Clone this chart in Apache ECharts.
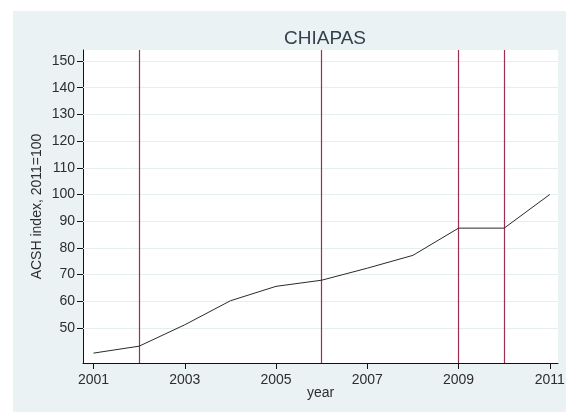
<!DOCTYPE html>
<html>
<head>
<meta charset="utf-8">
<script src="https://cdn.jsdelivr.net/npm/echarts@6/dist/echarts.min.js"></script>
<style>
  html, body { margin: 0; padding: 0; background: #ffffff; }
  #chart { width: 571px; height: 412px; }
</style>
</head>
<body>
<div id="chart"></div>
<script>
// ACSH index for Chiapas, 2011 = 100
const years = [2001, 2002, 2003, 2004, 2005, 2006, 2007, 2008, 2009, 2010, 2011];
const acshIndex = [40.6, 43.2, 51.2, 60.2, 65.6, 67.9, 72.4, 77.2, 87.4, 87.4, 100];

// Years marked with vertical reference lines
const markedYears = [2002, 2006, 2009, 2010];

// Tick labels
const yTicks = [50, 60, 70, 80, 90, 100, 110, 120, 130, 140, 150];
const xTicks = [2001, 2003, 2005, 2007, 2009, 2011];

const FONT = '"Liberation Sans", Arial, sans-serif';
const TEXT = '#2e2e2e';

const chart = echarts.init(document.getElementById('chart'), null, { renderer: 'canvas' });

chart.setOption({
  backgroundColor: '#ffffff',
  animation: false,
  graphic: [{
    type: 'rect',
    left: 13, top: 11,
    shape: { width: 553, height: 401 },
    style: { fill: '#eaf2f3' },
    z: -10
  }],
  title: {
    text: 'CHIAPAS',
    left: 320, top: 24,
    textAlign: 'center',
    textStyle: { fontFamily: FONT, fontSize: 19, fontWeight: 'normal', color: '#33404e' }
  },
  grid: {
    left: 83, top: 50, right: 13, bottom: 49,
    show: true, backgroundColor: '#ffffff', borderWidth: 0
  },
  xAxis: {
    type: 'value',
    min: 2000.77, max: 2011.18,
    name: 'year',
    nameLocation: 'middle',
    nameGap: 23,
    nameMoveOverlap: false,
    nameTextStyle: { fontFamily: FONT, fontSize: 14, color: TEXT },
    axisLine: { show: true, lineStyle: { color: '#111111', width: 1 } },
    axisTick: { show: true, length: 6, customValues: xTicks, lineStyle: { color: '#111111' } },
    axisLabel: {
      customValues: xTicks,
      formatter: v => String(v),
      fontFamily: FONT, fontSize: 14, color: TEXT, margin: 10
    },
    splitLine: { show: false }
  },
  yAxis: {
    type: 'value',
    min: 36.9, max: 154.1,
    name: 'ACSH index, 2011=100',
    nameLocation: 'middle',
    nameGap: 39,
    nameMoveOverlap: false,
    nameRotate: 90,
    nameTextStyle: { fontFamily: FONT, fontSize: 14, color: TEXT },
    axisLine: { show: true, lineStyle: { color: '#111111', width: 1 } },
    axisTick: { show: true, length: 6, customValues: yTicks, lineStyle: { color: '#111111' } },
    axisLabel: {
      customValues: yTicks,
      formatter: v => String(v),
      fontFamily: FONT, fontSize: 14, color: TEXT, margin: 8
    },
    splitLine: { show: false }
  },
  series: [
    {
      // faint horizontal grid at each labelled y tick
      type: 'line',
      data: [],
      markLine: {
        silent: true,
        symbol: 'none',
        label: { show: false },
        lineStyle: { color: '#e6eeef', width: 1, type: 'solid' },
        data: yTicks.map(v => ({ yAxis: v }))
      },
      z: 1
    },
    {
      // vertical reference lines
      type: 'line',
      data: [],
      markLine: {
        silent: true,
        symbol: 'none',
        label: { show: false },
        lineStyle: { color: '#9c2f52', width: 1.2, type: 'solid' },
        data: markedYears.map(v => ({ xAxis: v }))
      },
      z: 3
    },
    {
      type: 'line',
      data: years.map((y, i) => [y, acshIndex[i]]),
      showSymbol: false,
      lineStyle: { color: '#2a2a2a', width: 1 },
      z: 5
    }
  ]
});
</script>
</body>
</html>
